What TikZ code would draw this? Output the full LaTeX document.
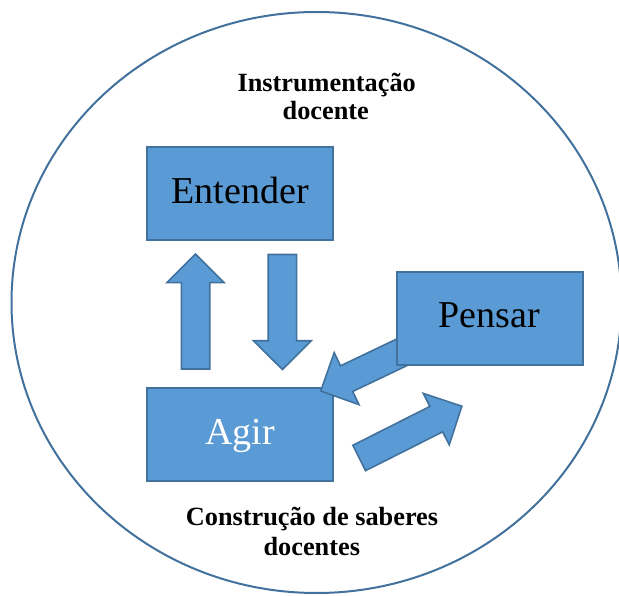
\documentclass[tikz,border=0pt]{standalone}
\usepackage{fontspec}
\setmainfont{Liberation Serif}
\definecolor{boxfill}{HTML}{5B9BD5}
\definecolor{boxline}{HTML}{41719C}
\tikzset{
  stagebox/.style={draw=boxline, line width=2pt, fill=boxfill, inner sep=0pt,
    minimum width=186pt, minimum height=93pt, text height=19pt, text depth=0pt,
    font=\fontsize{38}{40}\selectfont},
  titletext/.style={font=\fontsize{26.3}{28}\selectfont\bfseries, inner sep=0pt},
  blockarr/.pic={
    \draw[draw=boxline, line width=1.6pt, fill=boxfill, line join=miter]
      (0,14.2) -- (86.3,14.2) -- (86.3,28.8) -- (115,0) -- (86.3,-28.8)
      -- (86.3,-14.2) -- (0,-14.2) -- cycle;
  }
}
\begin{document}
\begin{tikzpicture}[x=1pt,y=-1pt]
\useasboundingbox (0,0) rectangle (619,596);
\draw[boxline, line width=2pt] (316.5,302.5) ellipse [x radius=305, y radius=290.5];
\node[titletext, anchor=base] (t1) at (326.7,91.7) {Instrumentação};
\node[titletext, anchor=base] (t2) at (325.8,119.3) {docente};
\node[stagebox] (entender) at (240.3,193.7) {Entender};
\pic[rotate=90] at (195.5,369) {blockarr};
\pic[rotate=-90] at (282.4,254.5) {blockarr};
\node[stagebox, text=white] (agir) at (240.3,434.7) {Agir};
\pic[rotate=205.5] at (424.5,341.5) {blockarr};
\node[stagebox] (pensar) at (489.5,318.3) {Pensar};
\pic[rotate=26.77] at (359.2,458) {blockarr};
\node[titletext, anchor=base] (c1) at (312,525.5) {Construção de saberes};
\node[titletext, anchor=base] (c2) at (311.8,555) {docentes};
\end{tikzpicture}
\end{document}
